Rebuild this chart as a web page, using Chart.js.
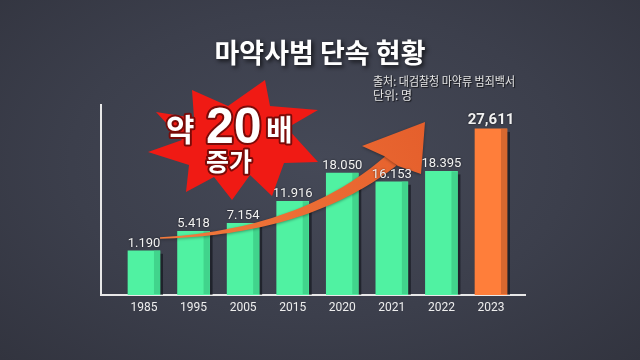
<!DOCTYPE html>
<html>
<head>
<meta charset="utf-8">
<script src="https://cdn.jsdelivr.net/npm/chart.js@4"></script>
<style>
  body { margin: 0; }
  #wrap {
    width: 640px; height: 360px; position: relative;
    background: radial-gradient(ellipse at 50% 45%, #454957 0%, #3c3f4c 55%, #32343f 100%);
  }
</style>
</head>
<body>
<div id="wrap"><canvas id="drugchart"></canvas></div>
<script>
const years = ["1985", "1995", "2005", "2015", "2020", "2021", "2022", "2023"];
const arrests = [1190, 5418, 7154, 11916, 18050, 16153, 18395, 27611];
const titleText = "마약사범 단속 현황";
const sourceText = "출처: 대검찰청 마약류 범죄백서";
const unitText = "단위: 명";
const burstLine1 = ["약", "20", "배"];
const burstLine2 = "증가";

const GREEN = "#50f2a2", GREEN_SIDE = "#41d48c";
const ORANGE = "#ff7e3a", ORANGE_SIDE = "#d7682f";
const lastIdx = arrests.length - 1;
const Y_FLOOR = -8400;

// 1.190 style separators, highlighted last value uses a comma
const fmt = (v, i) => String(v).replace(/\B(?=(\d{3})+$)/g, i === lastIdx ? "," : ".");

const decor = {
  id: "decor",
  beforeDatasetsDraw(chart) {
    const ctx = chart.ctx;
    ctx.save();
    ctx.fillStyle = "rgba(10,12,18,0.55)";
    chart.getDatasetMeta(0).data.forEach((bar) => {
      const r = bar.x + bar.width / 2;
      ctx.fillRect(r, bar.y + 3, 3, bar.base - bar.y - 3);
    });
    ctx.restore();
  },
  afterDatasetsDraw(chart) {
    const ctx = chart.ctx;
    const meta = chart.getDatasetMeta(0);
    ctx.save();
    // darker side strip on each bar
    meta.data.forEach((bar, i) => {
      const r = bar.x + bar.width / 2;
      ctx.fillStyle = i === lastIdx ? ORANGE_SIDE : GREEN_SIDE;
      ctx.fillRect(r - 6, bar.y, 6, bar.base - bar.y - 1);
    });
    drawArrow(ctx);
    // value labels, kept above the arrow
    ctx.textAlign = "center";
    ctx.textBaseline = "alphabetic";
    meta.data.forEach((bar, i) => {
      const hi = i === lastIdx;
      ctx.font = (hi ? "bold 15px" : "13px") + " Roboto, sans-serif";
      ctx.fillStyle = "#f2f2f2";
      ctx.shadowColor = "rgba(0,0,0,0.7)";
      ctx.shadowBlur = 2;
      ctx.fillText(fmt(arrests[i], i), bar.x, bar.y - (hi ? 5 : 4));
    });
    ctx.shadowBlur = 0;
    drawBurst(ctx);
    ctx.restore();
  },
  afterDraw(chart) {
    const ctx = chart.ctx;
    ctx.save();
    ctx.textAlign = "center";
    ctx.textBaseline = "middle";
    ctx.font = "bold 27px 'Noto Sans CJK KR', sans-serif";
    ctx.shadowColor = "rgba(0,0,0,0.75)";
    ctx.shadowBlur = 4;
    ctx.shadowOffsetX = 2;
    ctx.shadowOffsetY = 2;
    ctx.fillStyle = "#ffffff";
    ctx.fillText(titleText, 320, 53, 226);
    ctx.shadowBlur = 1;
    ctx.shadowOffsetX = 1;
    ctx.shadowOffsetY = 1;
    ctx.textAlign = "left";
    ctx.font = "12px 'Noto Sans CJK KR', sans-serif";
    ctx.fillStyle = "#e4e4e4";
    ctx.fillText(sourceText, 373, 81, 142);
    ctx.fillText(unitText, 373, 95, 42);
    ctx.restore();
  }
};

function drawArrow(ctx) {
  const p0 = { x: 160, y: 238 }, c = { x: 305, y: 232 }, p2 = { x: 392, y: 160 };
  const left = [], right = [];
  const n = 40;
  for (let i = 0; i <= n; i++) {
    const t = i / n;
    const x = (1 - t) * (1 - t) * p0.x + 2 * t * (1 - t) * c.x + t * t * p2.x;
    const y = (1 - t) * (1 - t) * p0.y + 2 * t * (1 - t) * c.y + t * t * p2.y;
    const dx = 2 * (1 - t) * (c.x - p0.x) + 2 * t * (p2.x - c.x);
    const dy = 2 * (1 - t) * (c.y - p0.y) + 2 * t * (p2.y - c.y);
    const len = Math.hypot(dx, dy);
    const nx = -dy / len, ny = dx / len;
    const w = 0.8 + 6.5 * Math.pow(t, 1.2);
    left.push([x + nx * w, y + ny * w]);
    right.push([x - nx * w, y - ny * w]);
  }
  const grad = ctx.createLinearGradient(160, 238, 425, 123);
  grad.addColorStop(0, "#f27a3c");
  grad.addColorStop(1, "#e55f2c");
  ctx.fillStyle = grad;
  ctx.shadowColor = "rgba(0,0,0,0.35)";
  ctx.shadowBlur = 3;
  ctx.shadowOffsetY = 1;
  ctx.beginPath();
  left.forEach((p, i) => (i ? ctx.lineTo(p[0], p[1]) : ctx.moveTo(p[0], p[1])));
  for (let i = right.length - 1; i >= 0; i--) ctx.lineTo(right[i][0], right[i][1]);
  ctx.closePath();
  ctx.fill();
  ctx.beginPath();
  ctx.moveTo(425, 122);
  ctx.lineTo(362, 146);
  ctx.lineTo(384, 156);
  ctx.lineTo(398, 166);
  ctx.lineTo(421, 174);
  ctx.closePath();
  ctx.fill();
  ctx.shadowBlur = 0;
  ctx.shadowOffsetY = 0;
}

function drawBurst(ctx) {
  const pts = [
    [265, 80], [270, 106], [318, 110], [287, 128], [318, 162], [284, 163],
    [272, 196], [250, 175], [232, 200], [214, 177], [186, 192], [189, 165],
    [148, 152], [182, 140], [156, 112], [194, 118], [192, 90], [228, 106]
  ];
  ctx.fillStyle = "#f01a14";
  ctx.beginPath();
  pts.forEach((p, i) => (i ? ctx.lineTo(p[0], p[1]) : ctx.moveTo(p[0], p[1])));
  ctx.closePath();
  ctx.fill();

  const outline = (txt, x, y, font) => {
    ctx.font = font;
    ctx.lineJoin = "round";
    ctx.lineWidth = 4;
    ctx.strokeStyle = "#7a0a08";
    ctx.strokeText(txt, x, y);
    ctx.fillStyle = "#ffffff";
    ctx.fillText(txt, x, y);
  };
  ctx.textAlign = "left";
  ctx.textBaseline = "alphabetic";
  outline(burstLine1[0], 166, 141, "bold 31px 'Noto Sans CJK KR', sans-serif");
  outline(burstLine1[1], 206, 143, "bold 50px 'Liberation Sans', Arial, sans-serif");
  outline(burstLine1[2], 266, 141, "bold 29px 'Noto Sans CJK KR', sans-serif");
  ctx.textAlign = "center";
  outline(burstLine2, 229, 171, "bold 25px 'Noto Sans CJK KR', sans-serif");
}

const config = {
  type: "bar",
  data: {
    datasets: [
      {
        label: "마약사범",
        data: arrests.map((v, i) => ({ x: i, y: v })),
        backgroundColor: arrests.map((v, i) => (i === lastIdx ? ORANGE : GREEN)),
        borderWidth: 0,
        barThickness: 32,
        base: Y_FLOOR,
      },
    ],
  },
  options: {
    responsive: true,
    maintainAspectRatio: false,
    animation: false,
    layout: { padding: { left: 101, top: 105, right: 115, bottom: 0 } },
    scales: {
      x: {
        type: "linear",
        offset: false,
        min: -0.867,
        max: 7.686,
        afterBuildTicks: (s) => { s.ticks = years.map((y, i) => ({ value: i })); },
        afterFit: (s) => { s.height = 65; },
        grid: { display: false, drawTicks: false },
        border: { display: true, color: "#e8e8e8", width: 2 },
        ticks: {
          color: "#eeeeee",
          font: { family: "Roboto", size: 12 },
          padding: 6,
          maxRotation: 0,
          autoSkip: false,
          callback: (v) => years[v] ?? "",
        },
      },
      y: {
        min: Y_FLOOR,
        max: 32800,
        afterFit: (s) => { s.width = 0; },
        grid: { display: false, drawTicks: false },
        border: { display: true, color: "#e8e8e8", width: 2 },
        ticks: { display: false },
      },
    },
    plugins: {
      legend: { display: false },
      tooltip: { enabled: false },
    },
  },
  plugins: [decor],
};

document.addEventListener("DOMContentLoaded", function () {
  new Chart(document.getElementById("drugchart"), config);
});
</script>
</body>
</html>
